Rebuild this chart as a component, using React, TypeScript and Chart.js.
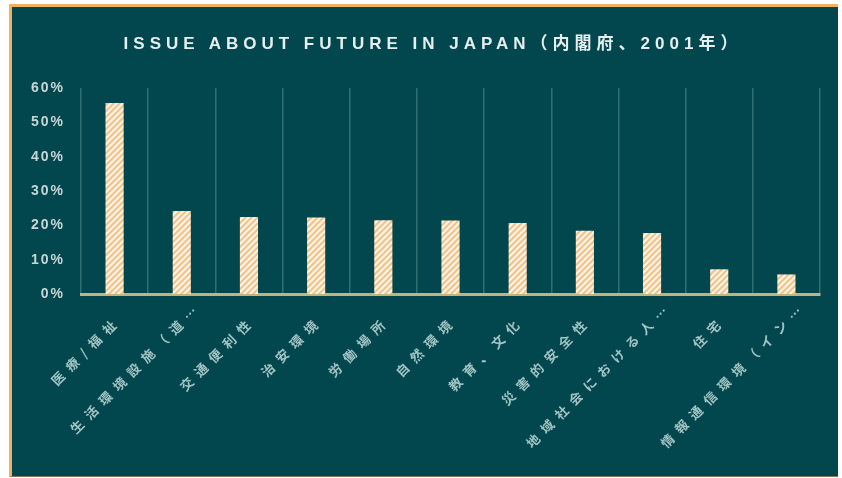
import React, { useEffect, useRef } from "react";
import { Chart, registerables } from "chart.js";

Chart.register(...registerables);

const titleText = "ISSUE ABOUT FUTURE IN JAPAN（内閣府、2001年）";
const categories = [
  "医療/福祉",
  "生活環境設施（道…",
  "交通便利性",
  "治安環境",
  "労働場所",
  "自然環境",
  "教育、文化",
  "災害的安全性",
  "地域社会における人…",
  "住宅",
  "情報通信環境（イン…",
];
const shares = [55.6, 24.2, 22.4, 22.3, 21.5, 21.4, 20.7, 18.4, 17.8, 7.2, 5.7];
const yMin = 0;
const yMax = 60;
const yStep = 10;

const BG = "#03474e";
const ORANGE = "#f2b25c";

function makeStripes(): CanvasPattern | string {
  const c = document.createElement("canvas");
  c.width = 6;
  c.height = 6;
  const g = c.getContext("2d");
  if (!g) return "#f6c27e";
  g.fillStyle = "#fff4e4";
  g.fillRect(0, 0, 6, 6);
  g.strokeStyle = "#f6c282";
  g.lineWidth = 2;
  g.beginPath();
  g.moveTo(-1, 7);
  g.lineTo(7, -1);
  g.moveTo(-4, 4);
  g.lineTo(4, -4);
  g.moveTo(2, 10);
  g.lineTo(10, 2);
  g.stroke();
  return g.createPattern(c, "repeat") || "#f6c27e";
}

const spacingPlugin = {
  id: "spacingAndLabels",
  beforeDraw(chart: any) {
    chart.ctx.letterSpacing = "2px";
  },
  afterDraw(chart: any) {
    const ctx = chart.ctx;
    const xs = chart.scales.x;
    const base = chart.chartArea.bottom;
    ctx.save();
    ctx.letterSpacing = "7px";
    ctx.font = 'bold 13px "Noto Sans CJK JP", sans-serif';
    ctx.fillStyle = "#a3c4c4";
    ctx.textAlign = "right";
    ctx.textBaseline = "middle";
    categories.forEach((label, i) => {
      const cx = xs.getPixelForValue(i);
      const step = label.endsWith("…") ? 0 : 14;
      ctx.save();
      ctx.translate(cx + 18 - step, base + 10 + step);
      ctx.rotate(-Math.PI / 4);
      ctx.fillText(label, 0, 0);
      ctx.restore();
    });
    ctx.restore();
    ctx.letterSpacing = "0px";
  },
};

export default function App() {
  const ref = useRef<HTMLCanvasElement>(null);

  useEffect(() => {
    const canvas = ref.current;
    if (!canvas) return;
    const stripes = makeStripes();
    const chart = new Chart(canvas, {
      type: "bar",
      data: {
        labels: categories,
        datasets: [
          {
            data: shares,
            backgroundColor: stripes as any,
            borderWidth: 0,
            barPercentage: 0.27,
            categoryPercentage: 1,
          },
        ],
      },
      options: {
        responsive: false,
        animation: false,
        events: [],
        layout: { padding: { left: 0, right: 18, top: 81, bottom: 0 } },
        plugins: {
          legend: { display: false },
          tooltip: { enabled: false },
          title: { display: false },
        },
        scales: {
          x: {
            grid: {
              color: "#32706f",
              lineWidth: 1.5,
              drawTicks: false,
              offset: true,
            },
            border: { color: "#c4b47c", width: 3 },
            ticks: { display: false },
            afterFit: (s: any) => {
              s.height = 182;
            },
          },
          y: {
            min: yMin,
            max: yMax,
            ticks: {
              stepSize: yStep,
              callback: (v: any) => v + "%",
              color: "#c9d6d6",
              padding: 16,
              font: {
                family: '"Liberation Sans", sans-serif',
                size: 14,
                weight: "bold",
              },
            },
            grid: { display: false, drawTicks: false },
            border: { display: false },
            afterFit: (s: any) => {
              s.width = 69;
            },
          },
        },
      },
      plugins: [spacingPlugin],
    });
    return () => chart.destroy();
  }, []);

  return (
    <div
      style={{
        position: "absolute",
        left: 9,
        top: 4,
        width: 826,
        height: 469,
        background: BG,
        borderLeft: `3px solid ${ORANGE}`,
        borderTop: `3px solid ${ORANGE}`,
        borderBottom: "1px solid #7d7a5a",
      }}
    >
      <div
        style={{
          position: "absolute",
          left: 0,
          right: 0,
          top: 27,
          paddingLeft: 16,
          textAlign: "center",
          lineHeight: "20px",
          fontFamily: '"Liberation Sans", "Noto Sans CJK JP", sans-serif',
          fontWeight: "bold",
          fontSize: 17,
          letterSpacing: "5px",
          color: "#e6eeee",
          whiteSpace: "nowrap",
        }}
      >
        {titleText}
      </div>
      <canvas ref={ref} width={826} height={469} style={{ display: "block" }} />
    </div>
  );
}
